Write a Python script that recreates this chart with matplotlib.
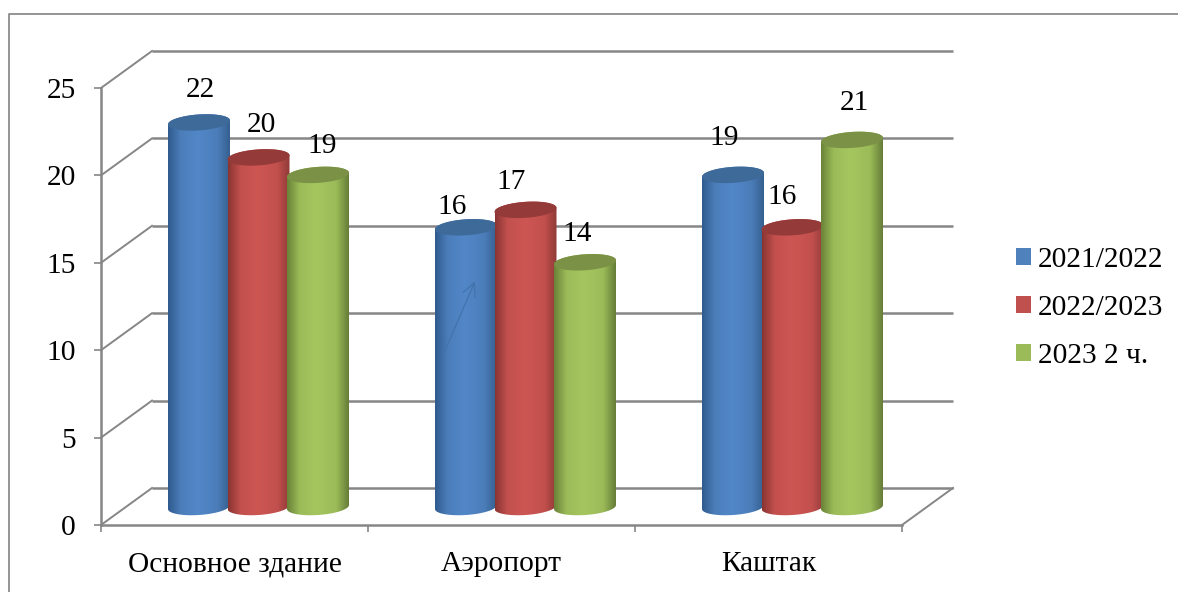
import numpy as np
import matplotlib as mpl
mpl.use('Agg')
import matplotlib.pyplot as plt
from matplotlib.colors import LinearSegmentedColormap
from matplotlib.lines import Line2D
from matplotlib.patches import Patch, Polygon

categories = ['Основное здание', 'Аэропорт', 'Каштак']
series_names = ['2021/2022', '2022/2023', '2023 2 ч.']
values_2122 = [22, 16, 19]
values_2223 = [20, 17, 16]
values_2023 = [19, 14, 21]
yticks = [0, 5, 10, 15, 20, 25]

# edge, mid, bright, right edge, top cap
blue = ['#2f5b8e', '#4b7db9', '#5287c8', '#36608f', '#3e6a9a']
red = ['#8a3533', '#c2504d', '#cd5653', '#8f3a38', '#943b39']
green = ['#6a8238', '#9abb58', '#a5c65f', '#667d38', '#7a9146']
palette = [blue, red, green]
legend_colors = ['#4f81bd', '#c0504d', '#9bbb59']

# pixel geometry of the plot
PX_L, PX_R, PX_T, PX_B = 101, 902, 88, 525
W, H = 1178, 592
sx = 3 / (PX_R - PX_L)      # categories per pixel
sy = 25 / (PX_B - PX_T)     # value units per pixel
wall_dx, wall_dy = 51 * sx, 37 * sy
bar_dx, bar_dy = 24 * sx, 18 * sy
radius, cap_b, cap_k = 31 * sx, 8 * sy, 2 * sy
spacing = 59.5 * sx

# label nudges in pixels from the centre of the cap, one row per series
label_dx = [[1, -14, -9], [3, -14, -10], [4, -8, 2]]
label_dy = [[32, 20, 37], [32, 28, 30], [29, 28, 37]]

plt.rcParams['font.family'] = ['Liberation Serif', 'DejaVu Serif']
GRID = '#868686'
FS = 21.2

fig = plt.figure(figsize=(W / 100, H / 100), dpi=100)
ax = fig.add_axes([PX_L / W, 1 - PX_B / H, (PX_R - PX_L) / W, (PX_B - PX_T) / H])
ax.set_xlim(0, 3)
ax.set_ylim(0, 25)
for s in ['top', 'right']:
    ax.spines[s].set_visible(False)
for s in ['left', 'bottom']:
    ax.spines[s].set_color(GRID)
    ax.spines[s].set_linewidth(1.8)

ax.set_xticks([0, 1, 2, 3])
ax.set_xticklabels([])
ax.set_xticks([0.5, 1.5, 2.5], minor=True)
ax.set_xticklabels(categories, minor=True, fontsize=FS)
ax.tick_params(axis='x', which='minor', length=0, pad=19)
ax.tick_params(axis='x', which='major', length=5, width=1.2, color=GRID)
ax.set_yticks(yticks)
ax.tick_params(axis='y', length=5, width=1.2, color=GRID, labelsize=FS, pad=13)

# back wall gridlines and the floor
for v in yticks:
    ax.plot([wall_dx, 3 + wall_dx], [v + wall_dy] * 2, color=GRID, lw=1.8,
            clip_on=False, zorder=1, solid_capstyle='butt')
    ax.plot([0, wall_dx], [v, v + wall_dy], color=GRID, lw=1.4, clip_on=False, zorder=1)
ax.plot([3, 3 + wall_dx], [0, wall_dy], color=GRID, lw=1.4, clip_on=False, zorder=1)

t = np.linspace(0, 2 * np.pi, 121)


def draw_cylinder(cx, value, colors, z):
    y0 = bar_dy
    y1 = bar_dy + value
    # silhouette: lower arc at the floor, upper arc of the cap
    tb = np.linspace(np.pi, 2 * np.pi, 60)
    xb = cx + radius * np.cos(tb)
    yb = y0 + cap_b * np.sin(tb) + cap_k * np.cos(tb)
    tt = np.linspace(0, np.pi, 60)
    xt = cx + radius * np.cos(tt)
    yt = y1 + cap_b * np.sin(tt) + cap_k * np.cos(tt)
    verts = np.column_stack([np.r_[xb, xt], np.r_[yb, yt]])
    body = Polygon(verts, closed=True, transform=ax.transData, fc='none', ec='none')
    ax.add_patch(body)
    cmap = LinearSegmentedColormap.from_list(
        'c', [(0, colors[0]), (0.2, colors[1]), (0.48, colors[2]),
              (0.8, colors[1]), (1, colors[3])])
    grad = np.linspace(0, 1, 128).reshape(1, -1)
    im = ax.imshow(grad, cmap=cmap, aspect='auto', zorder=z, clip_on=True,
                   extent=[cx - radius, cx + radius, y0 - 2 * cap_b, y1 + 2 * cap_b])
    im.set_clip_path(body)
    cap = Polygon(np.column_stack([cx + radius * np.cos(t),
                                   y1 + cap_b * np.sin(t) + cap_k * np.cos(t)]),
                  closed=True, fc=colors[4], ec='none', zorder=z + 0.1, clip_on=False)
    ax.add_patch(cap)


all_values = [values_2122, values_2223, values_2023]
for i, vals in enumerate(all_values):
    for j, v in enumerate(vals):
        cx = j + 0.5 + bar_dx + (i - 1) * spacing
        draw_cylinder(cx, v, palette[i], 3 + i * 0.5)
        ax.annotate(str(v), (cx, v + bar_dy), xytext=(label_dx[i][j] * 0.72, label_dy[i][j] * 0.72),
                    textcoords='offset points', ha='center', va='center', fontsize=FS,
                    zorder=10, annotation_clip=False)
ax.set_xlim(0, 3)
ax.set_ylim(0, 25)

# stray arrow lying on the blue bar of the second group
to_data = lambda px, py: ((px - PX_L) * sx, (PX_B - py) * sy)
ax.annotate('', xy=to_data(476, 279), xytext=to_data(444, 353),
            arrowprops=dict(arrowstyle='->', color='#4373ac', lw=0.9, mutation_scale=24),
            zorder=9, annotation_clip=False)

handles = [Patch(fc=c, ec='none') for c in legend_colors]
fig.legend(handles, series_names, loc='center left', bbox_to_anchor=(1016 / W, 1 - 308 / H),
           frameon=False, fontsize=FS, handlelength=0.51, handleheight=0.51,
           handletextpad=0.24, labelspacing=0.75, borderpad=0, borderaxespad=0)

# outer chart frame, runs off the picture
fig.add_artist(Line2D([8.7 / W, 8.7 / W, 1], [0, 1 - 13.7 / H, 1 - 13.7 / H], color='#8c8c8c', lw=1.3))

fig.savefig('out.png', dpi=100)
